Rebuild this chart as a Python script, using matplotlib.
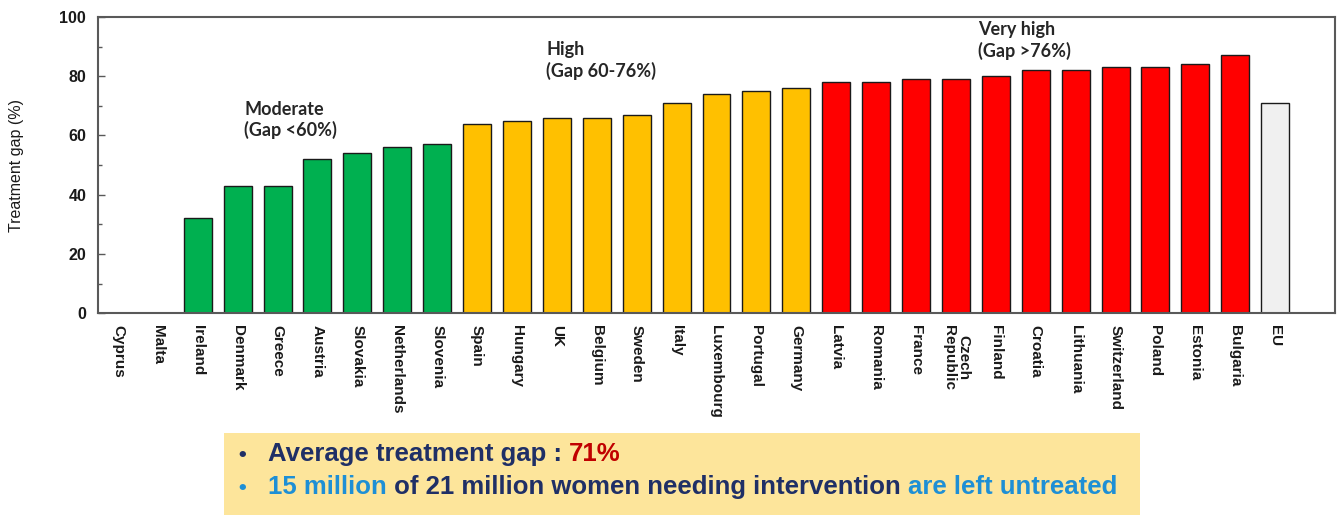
import matplotlib
matplotlib.use("Agg")
import matplotlib.pyplot as plt
from matplotlib.ticker import MultipleLocator

countries = ["Cyprus", "Malta", "Ireland", "Denmark", "Greece", "Austria", "Slovakia",
             "Netherlands", "Slovenia", "Spain", "Hungary", "UK", "Belgium", "Sweden",
             "Italy", "Luxembourg", "Portugal", "Germany", "Latvia", "Romania", "France",
             "Czech\nRepublic", "Finland", "Croatia", "Lithuania", "Switzerland", "Poland",
             "Estonia", "Bulgaria", "EU"]
gap = [0, 0, 32, 43, 43, 52, 54, 56, 57, 64, 65, 66, 66, 67, 71, 74, 75, 76, 78, 78, 79,
       79, 80, 82, 82, 83, 83, 84, 87, 71]
groups = ["moderate"] * 9 + ["high"] * 9 + ["veryhigh"] * 11 + ["eu"]
group_colors = {"moderate": "#00B050", "high": "#FFC000", "veryhigh": "#FF0000", "eu": "#F0F0F0"}

fig = plt.figure(figsize=(13.42, 5.15), dpi=100)
ax = fig.add_axes([0.073, 0.392, 0.9218, 0.575])

x = list(range(len(countries)))
ax.bar(x, gap, width=0.7, color=[group_colors[g] for g in groups],
       edgecolor="#1a1a1a", linewidth=1.0, zorder=2)

ax.set_xlim(-0.5, 30.5)
ax.set_ylim(0, 100)
ax.set_xticks([])
ax.yaxis.set_major_locator(MultipleLocator(20))
ax.yaxis.set_minor_locator(MultipleLocator(10))
ax.tick_params(axis="y", which="major", direction="in", length=5, width=1, colors="#595959",
               labelcolor="#1a1a1a", pad=8.5)
ax.tick_params(axis="y", which="minor", direction="in", length=3, width=1, colors="#595959")
for lab in ax.get_yticklabels():
    lab.set_fontweight("bold")
    lab.set_fontsize(11.5)
    lab.set_family("Liberation Sans")
for s in ax.spines.values():
    s.set_color("#595959")
    s.set_linewidth(1.5)

for xi, name in zip(x, countries):
    ax.text(xi, -4, name, rotation=-90, ha="center", va="top", fontsize=11,
            fontweight="bold", family="Liberation Sans", color="#1a1a1a",
            linespacing=1.0, clip_on=False)

ax.set_ylabel("Treatment gap (%)", fontsize=11.5, family="Liberation Sans",
              color="#1a1a1a")
ax.yaxis.set_label_coords(-0.0595, 0.5)

ann_kw = dict(fontsize=13, family="Lato", fontweight="bold", color="#262626",
              va="top", ha="left", linespacing=1.25)
ax.text(3.16, 71.8, "Moderate\n(Gap <60%)", **ann_kw)
ax.text(10.73, 92.0, "High\n(Gap 60-76%)", **ann_kw)
ax.text(21.55, 98.6, "Very high\n(Gap >76%)", **ann_kw)

# bottom highlight box
box = fig.add_axes([224 / 1342, 0.0, (1140 - 224) / 1342, (515 - 433) / 515])
box.set_facecolor("#FDE59B")
box.set_xticks([])
box.set_yticks([])
for s in box.spines.values():
    s.set_visible(False)

navy = "#1F2F66"
blue = "#1E8FD5"
red = "#C00000"
fs = 18.5
tkw = dict(fontsize=fs, family="Liberation Sans", fontweight="bold",
           va="baseline", transform=box.transAxes)

def line(parts, x0, y0, bullet_color):
    box.text(0.014, y0, "\u2022", color=bullet_color, fontsize=13, va="baseline",
             transform=box.transAxes, fontweight="bold")
    prev = box.text(x0, y0, parts[0][0], color=parts[0][1], **tkw)
    for txt, col in parts[1:]:
        prev = box.annotate(txt, xy=(1, 0), xycoords=prev, va="bottom", ha="left",
                            color=col, fontsize=fs, family="Liberation Sans",
                            fontweight="bold")

line([("Average treatment gap : ", navy), ("71%", red)], 0.048, 0.66, navy)
line([("15 million", blue), (" of 21 million women needing intervention ", navy),
      ("are left untreated", blue)], 0.048, 0.26, blue)

fig.savefig("out.png", dpi=100)
